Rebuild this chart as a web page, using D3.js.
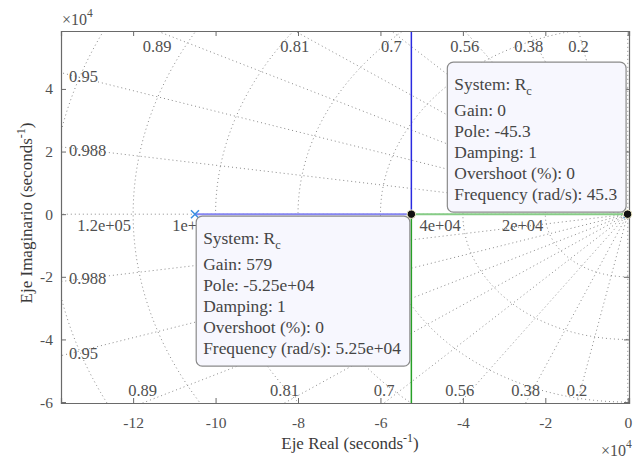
<!DOCTYPE html>
<html><head><meta charset="utf-8">
<script src="https://cdn.jsdelivr.net/npm/d3@7"></script>
<style>
html,body{margin:0;padding:0;background:#fff;}
svg{display:block;}
svg text{font-family:"Liberation Serif","Times New Roman",serif;}
</style></head>
<body><svg id="c" width="639" height="458"></svg>
<script>
// ---- data ----
const openLoopPoles = [-1.05e5, -45.3];
const breakaway = -5.25e4;
const branchBlueReal = [[-1.05e5, 0], [-5.25e4, 0]];
const branchBlueVert = [[-5.25e4, 0], [-5.25e4, 1e5]];
const branchGreenReal = [[-45.3, 0], [-5.25e4, 0]];
const branchGreenVert = [[-5.25e4, 0], [-5.25e4, -1e5]];
const dampingValues = [0.2, 0.38, 0.56, 0.7, 0.81, 0.89, 0.95, 0.988];
const wnValues = [2e4, 4e4, 6e4, 8e4, 1e5, 1.2e5, 1.4e5];
const wnLabels = ["2e+04", "4e+04", "6e+04", "8e+04", "1e+05", "1.2e+05", ""];
const xTicks = [-12e4, -10e4, -8e4, -6e4, -4e4, -2e4, 0];
const yTicks = [-6e4, -4e4, -2e4, 0, 2e4, 4e4];
const tipPoints = [
  {x: -45.3, y: 0, lines: ["Gain: 0", "Pole: -45.3", "Damping: 1", "Overshoot (%): 0", "Frequency (rad/s): 45.3"], place: "above"},
  {x: -5.25e4, y: 0, lines: ["Gain: 579", "Pole: -5.25e+04", "Damping: 1", "Overshoot (%): 0", "Frequency (rad/s): 5.25e+04"], place: "below"}
];

// ---- layout ----
const FF = "'Liberation Serif','Times New Roman',serif";
const L = 61, R = 629, T = 31, B = 403;
const x = d3.scaleLinear().domain([-13.75e4, 0.03e4]).range([L, R]);
const y = d3.scaleLinear().domain([-6.03e4, 5.85e4]).range([B, T]);
const svg = d3.select("#c");
const txt = "#505050", axc = "#6a6a6a", gridc = "#8a8a8a";

svg.append("defs").append("clipPath").attr("id", "clip")
  .append("rect").attr("x", L).attr("y", T).attr("width", R - L).attr("height", B - T);

const g = svg.append("g").attr("clip-path", "url(#clip)");
const line = d3.line().x(d => x(d[0])).y(d => y(d[1]));
const grid = g.append("g").attr("fill", "none").attr("stroke", gridc)
  .attr("stroke-width", 1).attr("stroke-dasharray", "1 3");

// damping rays
const Rbig = 5e5;
dampingValues.forEach(z => {
  const s = Math.sqrt(1 - z * z);
  grid.append("path").attr("d", line([[-Rbig * z, Rbig * s], [0, 0], [-Rbig * z, -Rbig * s]]));
});
grid.append("path").attr("d", line([[0, -Rbig], [0, Rbig]]));
grid.append("path").attr("d", line([[-Rbig, 0], [0, 0]]));
// wn circles
wnValues.forEach(w => {
  const pts = d3.range(0, 181).map(i => {
    const a = Math.PI / 2 + i * Math.PI / 180;
    return [w * Math.cos(a), w * Math.sin(a)];
  });
  grid.append("path").attr("d", line(pts));
});

// labels of sgrid
const lab = svg.append("g").attr("fill", txt).attr("font-size", 16.5).attr("font-family", FF);
dampingValues.forEach(z => {
  const t = Math.sqrt(1 - z * z) / z;
  [1, -1].forEach(sgn => {
    const yEdge = sgn > 0 ? y.domain()[1] : y.domain()[0];
    const xr = -Math.abs(yEdge) / t;
    if (xr >= x.domain()[0]) {
      lab.append("text").attr("x", x(xr)).attr("y", sgn > 0 ? T + 21 : B - 7)
        .attr("text-anchor", "middle").text(String(z));
    } else {
      const xi = x.domain()[0];
      const yi = sgn * (-xi) * t;
      lab.append("text").attr("x", L + 8).attr("y", y(yi) + (sgn > 0 ? 9 : 3))
        .text(String(z));
    }
  });
});
const wnText = [];
wnValues.forEach((w, i) => {
  if (wnLabels[i]) wnText.push(lab.append("text").attr("x", x(-w) - 2).attr("y", y(0) + 17)
    .attr("text-anchor", "end").text(wnLabels[i]));
});

// locus
g.append("path").attr("d", line(branchBlueReal)).attr("stroke", "#8686f2").attr("stroke-width", 2).attr("fill", "none");
g.append("path").attr("d", line(branchGreenReal)).attr("stroke", "#86cc86").attr("stroke-width", 2).attr("fill", "none");
g.append("path").attr("d", line(branchBlueVert)).attr("stroke", "#2a2ae0").attr("stroke-width", 1.5).attr("fill", "none");
g.append("path").attr("d", line(branchGreenVert)).attr("stroke", "#27a027").attr("stroke-width", 1.5).attr("fill", "none");
openLoopPoles.forEach(p => {
  const cx = x(p), cy = y(0), r = 4;
  g.append("path").attr("d", `M${cx - r},${cy - r}L${cx + r},${cy + r}M${cx - r},${cy + r}L${cx + r},${cy - r}`)
    .attr("stroke", "#3b8ee0").attr("stroke-width", 1.5);
});

// axes
const ax = svg.append("g");
ax.append("g").attr("transform", `translate(0,${B})`)
  .call(d3.axisBottom(x).tickValues(xTicks).tickSize(-5).tickPadding(14).tickFormat(d => String(d / 1e4)));
ax.append("g").attr("transform", `translate(0,${T})`)
  .call(d3.axisTop(x).tickValues(xTicks).tickSize(-5).tickFormat(""));
ax.append("g").attr("transform", `translate(${L},0)`)
  .call(d3.axisLeft(y).tickValues(yTicks).tickSize(-5).tickPadding(8).tickFormat(d => String(d / 1e4)));
ax.append("g").attr("transform", `translate(${R},0)`)
  .call(d3.axisRight(y).tickValues(yTicks).tickSize(-5).tickFormat(""));
ax.selectAll("g").attr("font-family", FF);
ax.selectAll(".domain").attr("stroke", axc).attr("stroke-width", 1.2);
ax.selectAll(".tick line").attr("stroke", axc);
ax.selectAll(".tick text").attr("fill", txt).attr("font-size", 15.5).attr("font-family", FF);

// exponent labels
function expo(xp, yp) {
  const t = svg.append("text").attr("x", xp).attr("y", yp).attr("fill", txt)
    .attr("font-size", 16).attr("font-family", FF);
  t.append("tspan").text("×10");
  t.append("tspan").attr("font-size", 11.5).attr("dy", -8).text("4");
}
expo(62, 25);
expo(601, 456);

// axis titles
const xl = svg.append("text").attr("x", 350).attr("y", 449).attr("text-anchor", "middle")
  .attr("fill", "#3a3a3a").attr("font-size", 17).attr("font-family", FF);
xl.append("tspan").text("Eje Real (seconds");
xl.append("tspan").attr("font-size", 12).attr("dy", -7).text("-1");
xl.append("tspan").attr("dy", 7).text(")");
const yl = svg.append("text").attr("transform", "translate(32,213) rotate(-90)").attr("text-anchor", "middle")
  .attr("fill", "#3a3a3a").attr("font-size", 17).attr("font-family", FF);
yl.append("tspan").text("Eje Imaginario (seconds");
yl.append("tspan").attr("font-size", 12).attr("dy", -7).text("-1");
yl.append("tspan").attr("dy", 7).text(")");

// datatips
const boxes = [];
tipPoints.forEach(tp => {
  const px = x(tp.x), py = y(tp.y);
  const gg = svg.append("g");
  const box = gg.append("rect").attr("fill", "#f7f7fe").attr("stroke", "#8a8a8a")
    .attr("stroke-width", 1.2).attr("rx", 6);
  const tg = gg.append("g").attr("fill", "#454545").attr("font-size", 17.4).attr("font-family", FF);
  const first = tg.append("text").attr("x", 0).attr("y", 28);
  first.append("tspan").text("System: R");
  first.append("tspan").attr("font-size", 12.5).attr("dy", 5).text("c");
  tp.lines.forEach((s, i) => tg.append("text").attr("x", 0).attr("y", 54 + i * 21).text(s));
  const w = d3.max(tg.selectAll("text").nodes(), n => n.getComputedTextLength());
  const bw = w + 16, bh = 150;
  const bx = px - 1.5 - bw;
  const by = tp.place === "above" ? py - 2 - bh : py + 2;
  box.attr("x", bx).attr("y", by).attr("width", bw).attr("height", bh);
  boxes.push({x0: bx, x1: bx + bw, y0: by, y1: by + bh});
  tg.attr("transform", `translate(${bx + 7},${by})`);
  svg.append("circle").attr("cx", px).attr("cy", py).attr("r", 4.2)
    .attr("fill", "#111").attr("stroke", "#f4f0c8").attr("stroke-width", 1);
});
// frequency labels completely hidden behind a datatip are not rendered (as in the original)
wnText.forEach(t => {
  const b = t.node().getBBox();
  if (boxes.some(q => b.x >= q.x0 && b.x + b.width <= q.x1 && b.y >= q.y0 - 3 && b.y + b.height <= q.y1)) t.remove();
});
</script></body></html>
